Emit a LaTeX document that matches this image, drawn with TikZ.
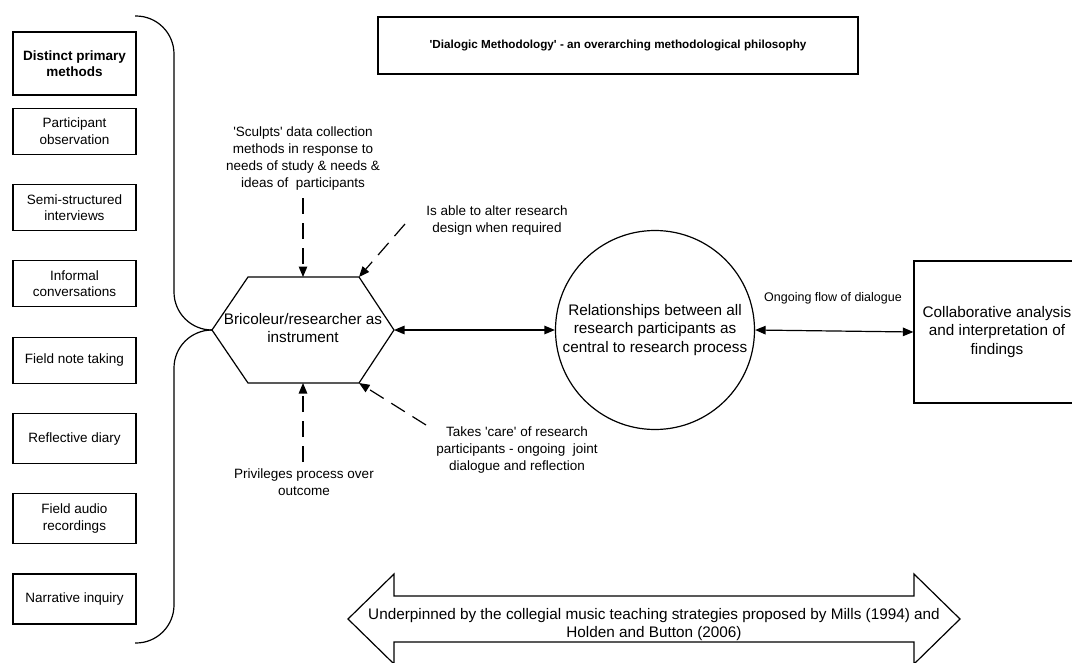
\documentclass[tikz,border=0pt]{standalone}
\usepackage{fontspec}
\setmainfont{Liberation Sans}
\usetikzlibrary{arrows.meta}

\newcommand{\sq}{\textquotesingle}

\tikzset{
  every node/.style={inner sep=0pt},
  outline/.style={line width=1.2pt},
  methodbox/.style={draw, line width=1.3pt, minimum width=123pt, align=center,
    font=\fontsize{13.5}{16.5}\selectfont},
  note/.style={align=center, font=\fontsize{13.5}{17}\selectfont},
  bigtext/.style={align=center, font=\fontsize{15.3}{18.5}\selectfont},
  headtip/.tip={Triangle[length=10.5pt,width=8.5pt]},
  dashlink/.style={-headtip, line width=1.2pt, dash pattern=on 16pt off 9pt},
  twoway/.style={headtip-headtip, line width=1.2pt},
}

\begin{document}
\begin{tikzpicture}[x=1pt,y=-1pt]
\useasboundingbox (0,0) rectangle (1072,662);
\clip (0,0) rectangle (1072,662);

% column of primary methods
\node[methodbox, minimum height=63pt, font=\fontsize{13.5}{16.5}\selectfont\bfseries]
  (b1) at (74.5,63.5) {Distinct primary\\methods};
\node[methodbox, minimum height=46pt] (b2) at (74.5,131.3) {Participant\\observation};
\node[methodbox, minimum height=46pt] (b3) at (74.5,207.5) {Semi-structured\\interviews};
\node[methodbox, minimum height=46pt] (b4) at (74.5,283.8) {Informal\\conversations};
\node[methodbox, minimum height=46pt] (b5) at (74.5,360.3) {Field note taking};
\node[methodbox, minimum height=50pt] (b6) at (74.5,438.8) {Reflective diary};
\node[methodbox, minimum height=50pt] (b7) at (74.5,518.7) {Field audio\\recordings};
\node[methodbox, minimum height=50pt] (b8) at (74.5,599) {Narrative inquiry};

% hexagon: the researcher as instrument
\coordinate (hL)  at (212,330);
\coordinate (hTL) at (248,277);
\coordinate (hTR) at (359,277);
\coordinate (hR)  at (394,330);
\coordinate (hBR) at (359,383);
\coordinate (hBL) at (248,383);
\coordinate (hT)  at (303,277);
\coordinate (hB)  at (303,383);
\draw[outline] (hL) -- (hTL) -- (hTR) -- (hR) -- (hBR) -- (hBL) -- cycle;
\node[bigtext] (hex) at (303,328) {Bricoleur/researcher as\\instrument};

% brace gathering the methods
\draw[outline, rounded corners=38pt] (135,16) -- (174,16) -- (174,330) -- (hL);
\draw[outline, rounded corners=38pt] (hL) -- (174,330) -- (174,643) -- (135,643);

% title
\node[draw, outline, minimum width=480pt, minimum height=57pt,
  font=\fontsize{11.7}{14}\selectfont\bfseries] (title) at (618,45.5)
  {\sq Dialogic Methodology\sq\ - an overarching methodological philosophy};

% central circle and right box
\node[draw, outline, circle, minimum size=199pt, bigtext] (circ) at (655,330)
  {Relationships between all\\research participants as\\central to research process};
\node[draw, outline, minimum width=166pt, minimum height=142pt, bigtext] (collab) at (997,332)
  {Collaborative analysis\\and interpretation of\\findings};

\draw[twoway] (hR) -- (circ.west);
\draw[twoway] (circ.east) -- (collab.west);
\node[font=\fontsize{12.5}{15}\selectfont] (flow) at (833,298.5) {Ongoing flow of dialogue};

% annotations on the researcher
\node[note] (sculpt) at (303,159) {\sq Sculpts\sq\ data collection\\methods in response to\\needs of study \& needs \&\\ideas of\ \ participants};
\node[note] (alter) at (497,220.5) {Is able to alter research\\design when required};
\node[note] (priv) at (304,482) {Privileges process over\\outcome};
\node[note] (care) at (517,450.5) {Takes \sq care\sq\ of research\\participants - ongoing\ \ joint\\dialogue and reflection};

\coordinate (s1) at (303,198);
\coordinate (s2) at (405,224);
\coordinate (s3) at (303,462);
\coordinate (s4) at (426,425);
\draw[dashlink] (s1) -- (hT);
\draw[dashlink] (s2) -- (hTR);
\draw[dashlink] (s3) -- (hB);
\draw[dashlink] (s4) -- (hBR);

% underpinning double arrow
\coordinate (aL) at (348,619);
\coordinate (aR) at (960,619);
\draw[outline] (aL) -- (394,574) -- (394,596) -- (914,596) -- (914,574) -- (aR)
  -- (914,664) -- (914,642) -- (394,642) -- (394,664) -- cycle;
\node[align=center, font=\fontsize{15.3}{18}\selectfont] (under) at (654,625)
  {Underpinned by the collegial music teaching strategies proposed by Mills (1994) and\\Holden and Button (2006)};
\end{tikzpicture}
\end{document}
